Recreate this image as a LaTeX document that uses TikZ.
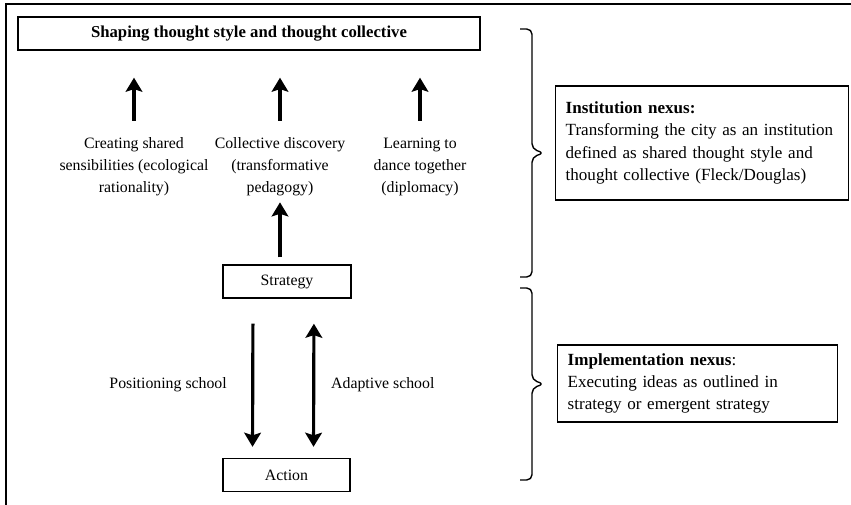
\documentclass[tikz,border=0pt]{standalone}
\usepackage{fontspec}
\setmainfont{Liberation Serif}
\usetikzlibrary{arrows.meta,
                calc,
                positioning}

\begin{document}
\begin{tikzpicture}[every node/.style={font=\fontsize{9}{12.5}\selectfont},
    box/.style={draw,line width=0.8pt,inner sep=0pt,minimum height=0.66cm},
    lbl/.style={align=center},
    note/.style={draw,line width=0.8pt,align=left,anchor=west,inner xsep=0.2cm,font=\fontsize{9.7}{12.6}\selectfont},
    tip/.tip={Stealth[length=8pt,width=9.5pt,inset=1.5pt]},
    arr/.style={line width=2pt,-tip},
    brc/.style={line width=0.8pt,rounded corners=3pt}]
    \useasboundingbox (0,0) rectangle (17.02,10.1);
    % frame
    \draw[line width=1.3pt] (0.12,0) -- (0.12,10.02) -- (17.02,10.02);
    \node[box,minimum width=9.24cm,font=\fontsize{9.5}{12.5}\selectfont\bfseries] (shaping) at (4.98,9.43) {Shaping thought style and thought collective};
    \node[lbl] (creating) at (2.68,6.76) {Creating shared\\sensibilities (ecological\\rationality)};
    \node[lbl] (discovery) at (5.6,6.76) {Collective discovery\\(transformative\\pedagogy)};
    \node[lbl] (dance) at (8.4,6.76) {Learning to\\dance together\\(diplomacy)};
    \foreach \n in {creating,discovery,dance}{%
      \draw[arr,shorten <=0.22cm,shorten >=0.54cm] (\n.north) -- (\n.north |- shaping.south);
    }
    \node[box,minimum width=2.56cm] (strategy) at (5.74,4.47) {Strategy};
    \draw[arr,shorten <=0.14cm] (strategy.north -| discovery.south) -- (discovery.south);
    \node[box,minimum width=2.54cm] (action) at (5.73,0.6) {Action};
    % schools
    \draw[arr,line width=1.8pt,shorten <=0.5cm,shorten >=0.22cm] ([xshift=-0.68cm]strategy.south) -- ([xshift=-0.68cm]action.north);
    \draw[arr,line width=1.8pt,tip-tip,shorten <=0.5cm,shorten >=0.22cm] ([xshift=0.54cm]strategy.south) -- ([xshift=0.54cm]action.north);
    \node[anchor=east] (positioning) at (4.66,2.4) {Positioning school};
    \node[anchor=west] (adaptive) at (6.5,2.4) {Adaptive school};
    % nexus braces
    \coordinate (inst-top) at (10.4,9.52);
    \coordinate (inst-bot) at (10.4,4.56);
    \coordinate (impl-top) at (10.4,4.34);
    \coordinate (impl-bot) at (10.4,0.5);
    \draw[brc] (inst-top) -- ++(0.24,0) -- (10.64,7.12) -- (10.88,7.04) -- (10.64,6.96) |- (inst-bot);
    \draw[brc] (impl-top) -- ++(0.24,0) -- (10.64,2.5) -- (10.88,2.42) -- (10.64,2.34) |- (impl-bot);
    \node[note,text width=5.46cm,minimum height=2.28cm] (institution) at (11.1,7.24) {\textbf{Institution nexus:}\\Transforming the city as an institution\\defined as shared thought style and\\thought collective (Fleck/Douglas)};
    \node[note,text width=5.2cm,minimum height=1.54cm] (implementation) at (11.14,2.43) {\textbf{Implementation nexus}:\\Executing ideas as outlined in\\strategy or emergent strategy};
\end{tikzpicture}
\end{document}
